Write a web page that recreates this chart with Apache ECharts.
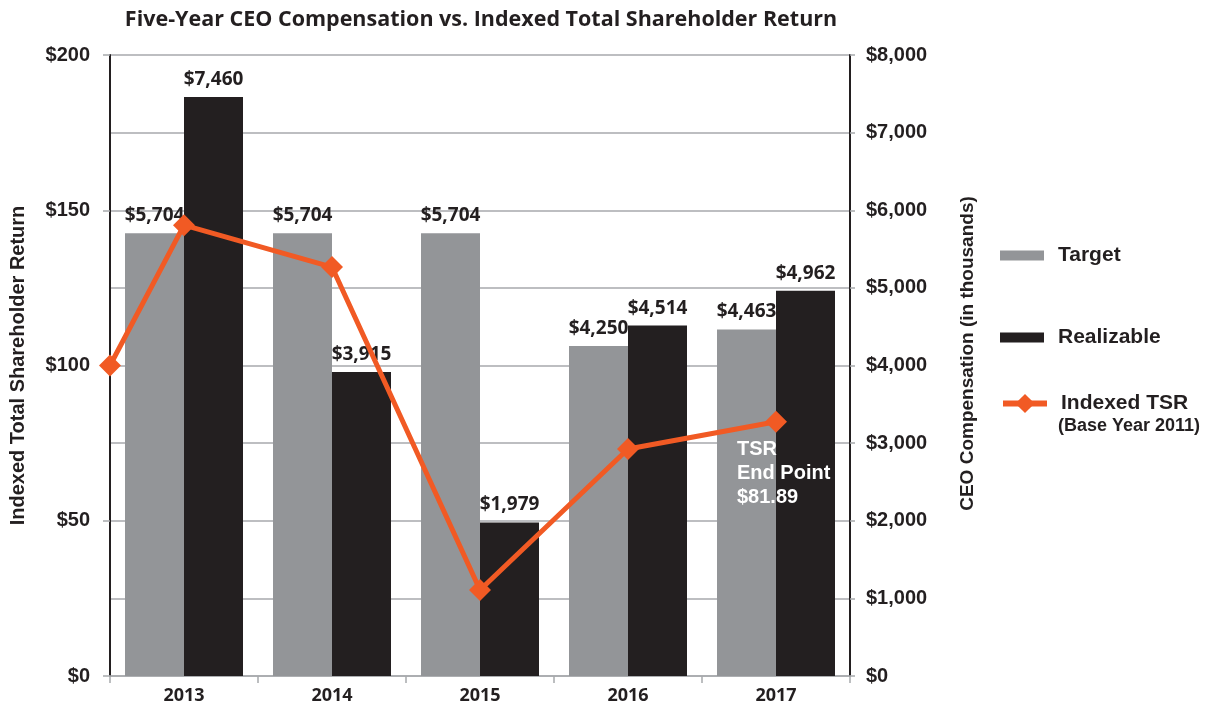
<!DOCTYPE html>
<html>
<head>
<meta charset="utf-8">
<script src="https://cdn.jsdelivr.net/npm/echarts@6/dist/echarts.min.js"></script>
<style>
  html, body { margin: 0; padding: 0; background: #fff; }
  #chart { width: 1225px; height: 708px; }
</style>
</head>
<body>
<div id="chart"></div>
<script>
// data
var years = ["2013", "2014", "2015", "2016", "2017"];
var target = [5704, 5704, 5704, 4250, 4463];
var realizable = [7460, 3915, 1979, 4514, 4962];
// TSR positions: -0.5 = base point on the left axis, 0..4 = years
var tsrX = [-0.5, 0, 1, 2, 3, 4];
var tsrY = [100, 145.2, 131.7, 27.7, 73.1, 81.89];

var dark = "#231f20";
var orange = "#f15a24";
var arial = "Liberation Sans";
var myriad = "Open Sans";

function money(v) {
  return "$" + Number(v).toLocaleString("en-US");
}

var legendText = { fontFamily: arial, fontWeight: "bold", fontSize: 21, color: dark, padding: [0, 0, 0, 9] };

var myEchart = echarts.init(document.getElementById("chart"));
var options = {
  animation: false,
  title: {
    text: "Five-Year CEO Compensation vs. Indexed Total Shareholder Return",
    left: 476,
    textAlign: "center",
    top: 4,
    textStyle: { fontFamily: myriad, fontWeight: "bold", fontSize: 21.5, color: dark },
  },
  grid: { left: 110, right: 375, top: 55, bottom: 32, outerBoundsMode: "none" },
  legend: [
    {
      data: ["Target"], left: 1000, top: 245, icon: "rect", padding: 0,
      itemWidth: 44, itemHeight: 10, textStyle: legendText,
    },
    {
      data: ["Realizable"], left: 1000, top: 327, icon: "rect", padding: 0,
      itemWidth: 44, itemHeight: 10, textStyle: legendText,
    },
    {
      data: ["Indexed TSR"], left: 1000, top: 393, padding: 0,
      itemWidth: 44, itemHeight: 24, textStyle: legendText,
      lineStyle: { width: 6 },
    },
  ],
  graphic: [
    {
      type: "text", left: 1058, top: 417,
      style: { text: "(Base Year 2011)", fontFamily: arial, fontWeight: "bold", fontSize: 18, fill: dark },
    },
    {
      type: "text", left: 737, top: 437, z: 10,
      style: {
        text: "TSR\nEnd Point\n$81.89", fontFamily: arial, fontWeight: "bold",
        fontSize: 20, lineHeight: 24, fill: "#fff",
      },
    },
  ],
  xAxis: [
    {
      type: "category",
      data: years,
      axisLine: { lineStyle: { color: "#a7a9ac", width: 1.5 } },
      axisTick: { show: true, length: 7, lineStyle: { color: "#a7a9ac", width: 1.5 } },
      axisLabel: { fontFamily: myriad, fontWeight: "bold", fontSize: 18, color: dark, margin: 11 },
    },
    { type: "value", min: -0.5, max: 4.5, show: false },
  ],
  yAxis: [
    {
      type: "value",
      position: "left",
      min: 0, max: 200, interval: 50,
      name: "Indexed Total Shareholder Return",
      nameLocation: "middle", nameRotate: 90, nameGap: 82,
      nameTextStyle: { fontFamily: arial, fontWeight: "bold", fontSize: 20, color: dark },
      axisLine: { show: true, onZero: false, lineStyle: { color: dark, width: 2 } },
      axisTick: { show: true, length: 7, lineStyle: { color: "#a7a9ac", width: 1.5 } },
      axisLabel: { formatter: money, fontFamily: arial, fontWeight: "bold", fontSize: 20, color: dark, margin: 20 },
      splitLine: { show: false },
    },
    {
      type: "value",
      position: "right",
      min: 0, max: 8000, interval: 1000,
      name: "CEO Compensation (in thousands)",
      nameLocation: "middle", nameRotate: 90, nameGap: 108,
      nameTextStyle: { fontFamily: arial, fontWeight: "bold", fontSize: 19, color: dark, padding: [0, 0, 0, 24] },
      axisLine: { show: true, onZero: false, lineStyle: { color: dark, width: 2 } },
      axisTick: { show: true, length: 5, lineStyle: { color: "#a7a9ac", width: 1.5 } },
      axisLabel: { formatter: money, fontFamily: arial, fontWeight: "bold", fontSize: 20, color: dark, margin: 16 },
      splitLine: { show: true, lineStyle: { color: "#a7a9ac", width: 1.5 } },
    },
  ],
  series: [
    {
      name: "Target",
      type: "bar",
      xAxisIndex: 0, yAxisIndex: 1,
      barWidth: 59, barGap: "0%",
      itemStyle: { color: "#939598" },
      label: {
        show: true, position: "top", distance: 8,
        formatter: function (p) { return money(p.value); },
        fontFamily: myriad, fontWeight: "bold", fontSize: 19, color: dark,
      },
      data: target,
    },
    {
      name: "Realizable",
      type: "bar",
      xAxisIndex: 0, yAxisIndex: 1,
      barWidth: 59, barGap: "0%",
      itemStyle: { color: dark },
      label: {
        show: true, position: "top", distance: 8,
        formatter: function (p) { return money(p.value); },
        fontFamily: myriad, fontWeight: "bold", fontSize: 19, color: dark,
      },
      data: realizable,
    },
    {
      name: "Indexed TSR",
      type: "line",
      xAxisIndex: 1, yAxisIndex: 0,
      z: 5,
      symbol: "diamond", symbolSize: 22,
      itemStyle: { color: orange },
      lineStyle: { color: orange, width: 5 },
      data: tsrX.map(function (x, i) { return [x, tsrY[i]]; }),
    },
  ],
};
myEchart.setOption(options);
</script>
</body>
</html>
